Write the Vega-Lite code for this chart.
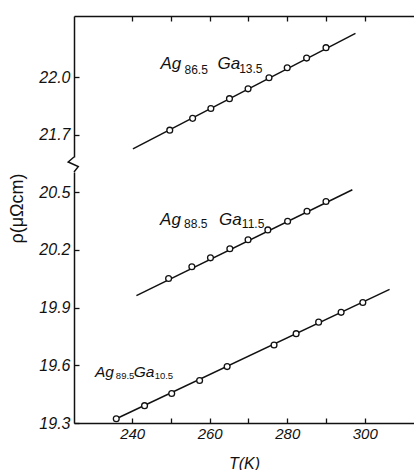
{
  "$schema": "https://vega.github.io/schema/vega-lite/v6.json",
  "padding": {"left": 8, "top": 15, "right": 0, "bottom": 0},
  "background": "white",
  "config": {
    "view": {"stroke": null},
    "font": "Liberation Sans",
    "axis": {
      "grid": false,
      "domainColor": "#111",
      "domainWidth": 1.5,
      "tickColor": "#111",
      "tickWidth": 1.3,
      "tickSize": -5,
      "labelFont": "Liberation Sans",
      "labelFontStyle": "italic",
      "labelFontSize": 15,
      "labelColor": "#111",
      "titleColor": "#111"
    }
  },
  "datasets": {
    "points": [
      {"series": "A", "T": 249.7, "rho": 21.725},
      {"series": "A", "T": 255.6, "rho": 21.786},
      {"series": "A", "T": 260.3, "rho": 21.837},
      {"series": "A", "T": 265.1, "rho": 21.888},
      {"series": "A", "T": 269.9, "rho": 21.939},
      {"series": "A", "T": 275.3, "rho": 21.996},
      {"series": "A", "T": 280.0, "rho": 22.048},
      {"series": "A", "T": 285.0, "rho": 22.098},
      {"series": "A", "T": 290.0, "rho": 22.152},
      {"series": "B", "T": 249.4, "rho": 20.051},
      {"series": "B", "T": 255.4, "rho": 20.112},
      {"series": "B", "T": 260.2, "rho": 20.158},
      {"series": "B", "T": 265.2, "rho": 20.205},
      {"series": "B", "T": 269.9, "rho": 20.252},
      {"series": "B", "T": 275.0, "rho": 20.303},
      {"series": "B", "T": 280.1, "rho": 20.348},
      {"series": "B", "T": 285.1, "rho": 20.400},
      {"series": "B", "T": 290.0, "rho": 20.451},
      {"series": "C", "T": 235.9, "rho": 19.322},
      {"series": "C", "T": 243.2, "rho": 19.390},
      {"series": "C", "T": 250.2, "rho": 19.453},
      {"series": "C", "T": 257.4, "rho": 19.521},
      {"series": "C", "T": 264.5, "rho": 19.593},
      {"series": "C", "T": 276.6, "rho": 19.705},
      {"series": "C", "T": 282.3, "rho": 19.764},
      {"series": "C", "T": 288.1, "rho": 19.824},
      {"series": "C", "T": 293.9, "rho": 19.875},
      {"series": "C", "T": 299.5, "rho": 19.926}
    ],
    "fits": [
      {"series": "A", "T": 240.2, "rho": 21.628},
      {"series": "A", "T": 297.6, "rho": 22.226},
      {"series": "B", "T": 241.1, "rho": 19.962},
      {"series": "B", "T": 296.8, "rho": 20.512},
      {"series": "C", "T": 235.9, "rho": 19.322},
      {"series": "C", "T": 306.4, "rho": 19.994}
    ],
    "labels": [
      {"panel": "top", "kind": "main", "txt": "Ag", "T": 247.3, "rho": 22.040},
      {"panel": "top", "kind": "sub", "txt": "86.5", "T": 253.5, "rho": 22.016},
      {"panel": "top", "kind": "main", "txt": "Ga", "T": 262.0, "rho": 22.040},
      {"panel": "top", "kind": "sub", "txt": "13.5", "T": 267.6, "rho": 22.019},
      {"panel": "bottom", "kind": "main", "txt": "Ag", "T": 247.2, "rho": 20.329},
      {"panel": "bottom", "kind": "sub", "txt": "88.5", "T": 253.4, "rho": 20.313},
      {"panel": "bottom", "kind": "main", "txt": "Ga", "T": 262.4, "rho": 20.329},
      {"panel": "bottom", "kind": "sub", "txt": "11.5", "T": 268.3, "rho": 20.313},
      {"panel": "bottom", "kind": "main_small", "txt": "Ag", "T": 230.4, "rho": 19.537},
      {"panel": "bottom", "kind": "sub_small", "txt": "89.5", "T": 235.8, "rho": 19.529},
      {"panel": "bottom", "kind": "main_small", "txt": "Ga", "T": 240.4, "rho": 19.537},
      {"panel": "bottom", "kind": "sub_small", "txt": "10.5", "T": 245.8, "rho": 19.526}
    ],
    "brk": [
      {"i": 0, "T": 225.0, "rho": 20.682},
      {"i": 1, "T": 223.5, "rho": 20.656},
      {"i": 2, "T": 226.1, "rho": 20.632},
      {"i": 3, "T": 225.0, "rho": 20.604}
    ]
  },
  "spacing": 15,
  "bounds": "flush",
  "vconcat": [
    {
      "width": 340,
      "height": 141,
      "encoding": {
        "x": {
          "field": "T", "type": "quantitative",
          "scale": {"domain": [225, 312.7], "nice": false, "zero": false},
          "axis": {"orient": "top", "values": [240, 250, 260, 270, 280, 290, 300], "labels": false, "title": null}
        },
        "y": {
          "field": "rho", "type": "quantitative",
          "scale": {"domain": [21.586, 22.316], "nice": false, "zero": false},
          "axis": {"values": [21.7, 22.0], "format": ".1f", "title": null, "labelPadding": 9, "labelFontSize": 16}
        }
      },
      "layer": [
        {
          "data": {"name": "fits"},
          "transform": [{"filter": "datum.series == 'A'"}],
          "mark": {"type": "line", "color": "#111", "strokeWidth": 1.5},
          "encoding": {"detail": {"field": "series"}}
        },
        {
          "data": {"name": "points"},
          "transform": [{"filter": "datum.series == 'A'"}],
          "mark": {"type": "point", "shape": "circle", "filled": false, "fill": "white", "fillOpacity": 1, "stroke": "#111", "strokeWidth": 1.3, "size": 34, "opacity": 1}
        },
        {
          "data": {"name": "labels"},
          "transform": [{"filter": "datum.panel == 'top' && datum.kind == 'main'"}],
          "mark": {"type": "text", "align": "left", "baseline": "alphabetic", "fontStyle": "italic", "fontSize": 17, "color": "#111"},
          "encoding": {"text": {"field": "txt"}}
        },
        {
          "data": {"name": "labels"},
          "transform": [{"filter": "datum.panel == 'top' && datum.kind == 'sub'"}],
          "mark": {"type": "text", "align": "left", "baseline": "alphabetic", "fontSize": 12, "color": "#111"},
          "encoding": {"text": {"field": "txt"}}
        }
      ]
    },
    {
      "width": 340,
      "height": 251,
      "encoding": {
        "x": {
          "field": "T", "type": "quantitative",
          "scale": {"domain": [225, 312.7], "nice": false, "zero": false},
          "axis": {
            "orient": "bottom", "values": [240, 250, 260, 270, 280, 290, 300],
            "labelExpr": "datum.value % 20 == 0 ? datum.label : ''",
            "labelPadding": 8, "labelFontSize": 15, "title": "T(K)", "titleFontStyle": "italic", "titleFontWeight": "normal",
            "titleFontSize": 16, "titlePadding": 14
          }
        },
        "y": {
          "field": "rho", "type": "quantitative",
          "scale": {"domain": [19.3, 20.604], "nice": false, "zero": false},
          "axis": {
            "values": [19.3, 19.6, 19.9, 20.2, 20.5], "format": ".1f", "labelPadding": 9, "labelFontSize": 16,
            "title": "ρ(μΩcm)", "titleFontWeight": "normal", "titleFontSize": 18,
            "titleX": -57, "titleY": 36, "titleAngle": 270, "titleAlign": "center", "titleBaseline": "middle"
          }
        }
      },
      "layer": [
        {
          "data": {"name": "brk"},
          "mark": {"type": "line", "color": "#111", "strokeWidth": 1.5, "clip": false},
          "encoding": {"order": {"field": "i"}}
        },
        {
          "data": {"name": "fits"},
          "transform": [{"filter": "datum.series != 'A'"}],
          "mark": {"type": "line", "color": "#111", "strokeWidth": 1.5},
          "encoding": {"detail": {"field": "series"}}
        },
        {
          "data": {"name": "points"},
          "transform": [{"filter": "datum.series != 'A'"}],
          "mark": {"type": "point", "shape": "circle", "filled": false, "fill": "white", "fillOpacity": 1, "stroke": "#111", "strokeWidth": 1.3, "size": 34, "opacity": 1}
        },
        {
          "data": {"name": "labels"},
          "transform": [{"filter": "datum.panel == 'bottom' && datum.kind == 'main'"}],
          "mark": {"type": "text", "align": "left", "baseline": "alphabetic", "fontStyle": "italic", "fontSize": 17, "color": "#111"},
          "encoding": {"text": {"field": "txt"}}
        },
        {
          "data": {"name": "labels"},
          "transform": [{"filter": "datum.panel == 'bottom' && datum.kind == 'sub'"}],
          "mark": {"type": "text", "align": "left", "baseline": "alphabetic", "fontSize": 12, "color": "#111"},
          "encoding": {"text": {"field": "txt"}}
        },
        {
          "data": {"name": "labels"},
          "transform": [{"filter": "datum.kind == 'main_small'"}],
          "mark": {"type": "text", "align": "left", "baseline": "alphabetic", "fontStyle": "italic", "fontSize": 15.5, "color": "#111"},
          "encoding": {"text": {"field": "txt"}}
        },
        {
          "data": {"name": "labels"},
          "transform": [{"filter": "datum.kind == 'sub_small'"}],
          "mark": {"type": "text", "align": "left", "baseline": "alphabetic", "fontSize": 9.5, "color": "#111"},
          "encoding": {"text": {"field": "txt"}}
        }
      ]
    }
  ]
}
